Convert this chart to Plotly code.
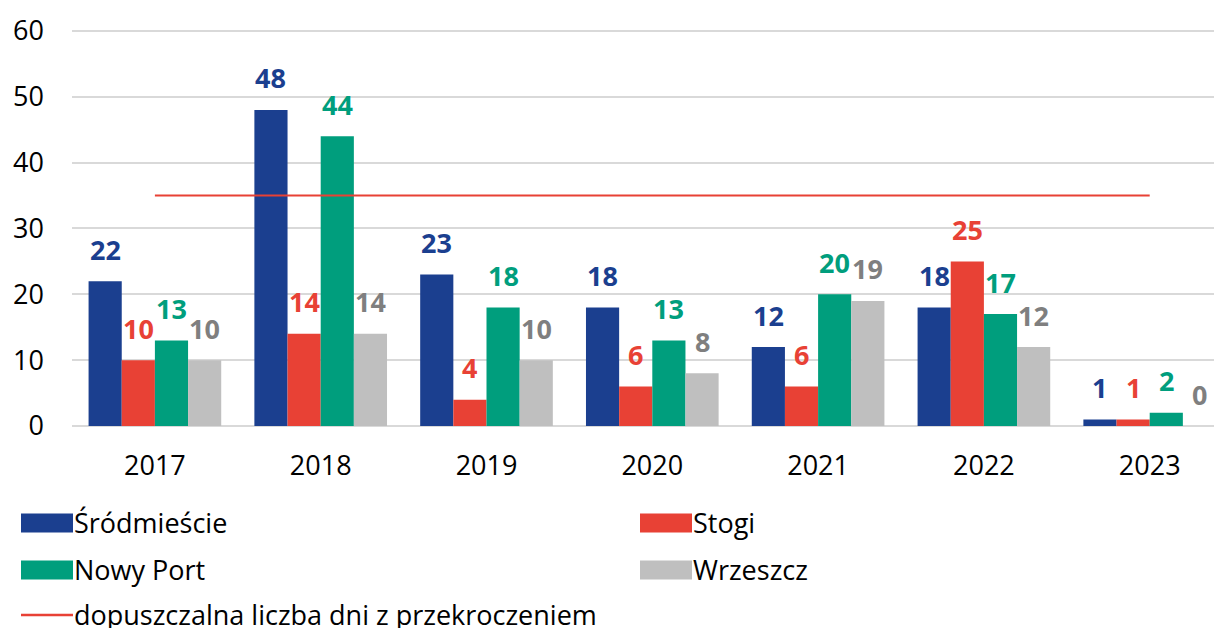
import plotly.graph_objects as go

years = ["2017", "2018", "2019", "2020", "2021", "2022", "2023"]
srodmiescie = [22, 48, 23, 18, 12, 18, 1]
stogi = [10, 14, 4, 6, 6, 25, 1]
nowy_port = [13, 44, 18, 13, 20, 17, 2]
wrzeszcz = [10, 14, 10, 8, 19, 12, 0]
limit_value = 35
limit = [limit_value] * len(years)

series_names = ["Śródmieście", "Stogi", "Nowy Port", "Wrzeszcz"]
series_values = [srodmiescie, stogi, nowy_port, wrzeszcz]
bar_colors = ["#1b3f8f", "#e84135", "#009e7d", "#bfbfbf"]
label_colors = ["#1b3f8f", "#e84135", "#009e7d", "#7f7f7f"]
limit_name = "dopuszczalna liczba dni z przekroczeniem"
limit_color = "#e84135"

# page body has an 8px margin: work in figure coordinates = window px - 8
OFF = 8
W, H = 1222 - OFF, 628 - OFF
Y_TOP = 60.3
L = 72 - OFF
y0_px = 426 - OFF          # pixel of value 0
px_per_unit = (426 - 31) / 60.0
T = int(round(y0_px - Y_TOP * px_per_unit))
B = H - y0_px
R = 0
plot_w = W - L - R
plot_h = H - T - B
cat_px = 165.8
x_range = [-0.5, -0.5 + plot_w / cat_px]
bargap = 0.2
bar_px = cat_px * (1 - bargap) / len(series_names)

FONT = "Open Sans"
FS = 27

fig = go.Figure()
for name, vals, col in zip(series_names, series_values, bar_colors):
    fig.add_trace(go.Bar(x=years, y=vals, name=name, marker_color=col,
                         marker_line_width=0, showlegend=False))

fig.add_trace(go.Scatter(x=years, y=limit, mode="lines", name=limit_name,
                         line=dict(color=limit_color, width=2), showlegend=False))

annotations = []
for i, (vals, col) in enumerate(zip(series_values, label_colors)):
    for j, v in enumerate(vals):
        annotations.append(dict(
            x=j, y=v, xref="x", yref="y", text=str(v), showarrow=False,
            xshift=(i - (len(series_names) - 1) / 2) * bar_px, yshift=32,
            yanchor="middle", xanchor="center",
            font=dict(family=FONT, size=FS, color=col, weight="bold")))


def px_x(px):
    return (px - OFF - L) / plot_w


def px_y(py):
    return (H - B - (py - OFF)) / plot_h


shapes = []
legend_items = [
    (series_names[0], bar_colors[0], 21, 523, "rect"),
    (series_names[1], bar_colors[1], 640, 523, "rect"),
    (series_names[2], bar_colors[2], 21, 570, "rect"),
    (series_names[3], bar_colors[3], 640, 570, "rect"),
    (limit_name, limit_color, 21, 615, "line"),
]
for text, col, x0, yc, kind in legend_items:
    if kind == "rect":
        shapes.append(dict(type="rect", xref="paper", yref="paper",
                           x0=px_x(x0), x1=px_x(x0 + 52), y0=px_y(yc - 9.5), y1=px_y(yc + 9.5),
                           fillcolor=col, line_width=0))
    else:
        shapes.append(dict(type="line", xref="paper", yref="paper",
                           x0=px_x(x0), x1=px_x(x0 + 52), y0=px_y(yc), y1=px_y(yc),
                           line=dict(color=col, width=2.5)))
    annotations.append(dict(x=px_x(x0 + 51), y=px_y(yc - 1), xref="paper", yref="paper",
                            text=text, showarrow=False, xanchor="left", yanchor="middle",
                            font=dict(family=FONT, size=FS, color="#000000")))

fig.update_layout(
    width=W, height=H,
    margin=dict(l=L, r=R, t=T, b=B, pad=0),
    paper_bgcolor="white", plot_bgcolor="white",
    barmode="group", bargap=bargap, bargroupgap=0,
    showlegend=False,
    font=dict(family=FONT, size=FS, color="#000000"),
    annotations=annotations, shapes=shapes,
    xaxis=dict(type="category", range=x_range, showgrid=False, showline=False,
               zeroline=False, ticks="", ticklabelstandoff=21,
               tickfont=dict(family=FONT, size=FS, color="#000000")),
    yaxis=dict(range=[0, Y_TOP], tickvals=[0, 10, 20, 30, 40, 50, 60],
               showgrid=True, gridcolor="#d9d9d9", gridwidth=1.5,
               zeroline=True, zerolinecolor="#d9d9d9", zerolinewidth=1.5,
               showline=False, ticks="", ticklabelstandoff=27,
               tickfont=dict(family=FONT, size=FS, color="#000000")),
)

fig.write_html("out.html")
